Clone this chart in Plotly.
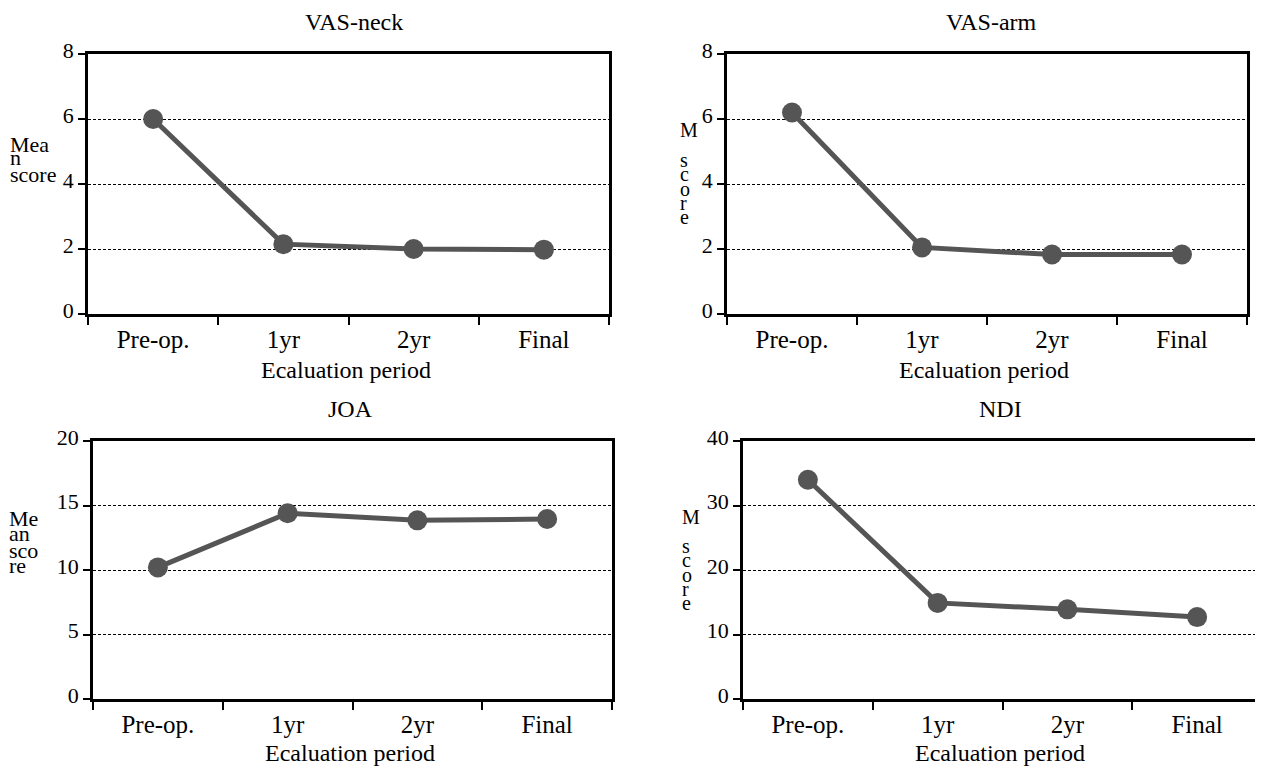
import plotly.graph_objects as go

categories = ["Pre-op.", "1yr", "2yr", "Final"]
vas_neck = [6.0, 2.15, 2.0, 1.98]
vas_arm = [6.2, 2.05, 1.83, 1.83]
joa = [10.2, 14.4, 13.85, 13.95]
ndi = [34.0, 14.9, 13.9, 12.7]

panel_titles = ["VAS-neck", "VAS-arm", "JOA", "NDI"]
x_title = "Ecaluation period"
y_ranges = [[0, 8], [0, 8], [0, 20], [0, 40]]
y_dticks = [2, 2, 5, 10]
series = [vas_neck, vas_arm, joa, ndi]

OFF = 8  # page body margin of the html page
W, H = 1263 - OFF, 768 - OFF
boxes = [(88, 609, 54, 314), (727, 1247, 54, 314), (93, 612, 441, 699), (743, 1262, 441, 699)]
xtitle_y = [370, 370, 753, 753]


def px(x):
    return (x - OFF) / W


def py(y):
    return 1 - (y - OFF) / H


FONT = "Liberation Serif"
GRAY = "#555555"

fig = go.Figure()
layout = dict(
    width=W, height=H, margin=dict(l=0, r=0, t=0, b=0, pad=0),
    paper_bgcolor="white", plot_bgcolor="white", showlegend=False,
    font=dict(family=FONT, color="black", size=20),
)
annotations = []

for i, (vals, box) in enumerate(zip(series, boxes)):
    n = "" if i == 0 else str(i + 1)
    l, r, t, b = box
    fig.add_trace(go.Scatter(
        x=categories, y=vals, mode="lines+markers",
        line=dict(color=GRAY, width=5),
        marker=dict(color=GRAY, size=20),
        xaxis="x" + n, yaxis="y" + n, cliponaxis=False,
    ))
    layout["xaxis" + n] = dict(
        domain=[px(l), min(px(r), 1.0)], anchor="y" + n, automargin=False,
        type="category", categoryorder="array", categoryarray=categories,
        range=[-0.5, 3.5], tickson="boundaries", ticks="outside", ticklen=8,
        tickwidth=2, tickcolor="black",
        showline=True, linecolor="black", linewidth=2.5, mirror=True,
        showgrid=False, tickfont=dict(family=FONT, size=25), ticklabelstandoff=1,
    )
    layout["yaxis" + n] = dict(
        domain=[py(b), py(t)], anchor="x" + n, automargin=False,
        range=y_ranges[i], dtick=y_dticks[i], tick0=0,
        ticks="outside", ticklen=7, tickwidth=2, tickcolor="black",
        showline=True, linecolor="black", linewidth=2.5, mirror=True,
        showgrid=True, gridcolor="black", gridwidth=1, griddash="3px,2px",
        zeroline=False, tickfont=dict(family=FONT, size=22),
        ticklabelstandoff=0, ticklabelshift=-4,
    )
    cx = (l + r) / 2 + (5 if i in (0, 1) else -2)
    annotations.append(dict(text=panel_titles[i], x=px(cx), y=py(t - 32),
                            xref="paper", yref="paper", showarrow=False,
                            xanchor="center", yanchor="middle",
                            font=dict(family=FONT, size=24)))
    annotations.append(dict(text=x_title, x=px((l + r) / 2 - 3), y=py(xtitle_y[i]),
                            xref="paper", yref="paper", showarrow=False,
                            xanchor="center", yanchor="middle",
                            font=dict(family=FONT, size=24)))

ylab_lines = [
    (["Mea", "n", "score"], 8, [144, 157, 175], 22),
    (["M", "s", "c", "o", "r", "e"], 678, [130, 160, 174, 189, 203, 217], 20),
    (["Me", "an", "sco", "re"], 7, [518, 533, 550, 565], 22),
    (["M", "s", "c", "o", "r", "e"], 680, [517, 546, 560, 575, 589, 603], 20),
]
for words, xl, ys, fs in ylab_lines:
    for w, yy in zip(words, ys):
        annotations.append(dict(text=w, x=px(xl), y=py(yy), xref="paper", yref="paper",
                                showarrow=False, xanchor="left", yanchor="middle",
                                font=dict(family=FONT, size=fs)))

layout["annotations"] = annotations
fig.update_layout(**layout)
fig.write_html("out.html")
